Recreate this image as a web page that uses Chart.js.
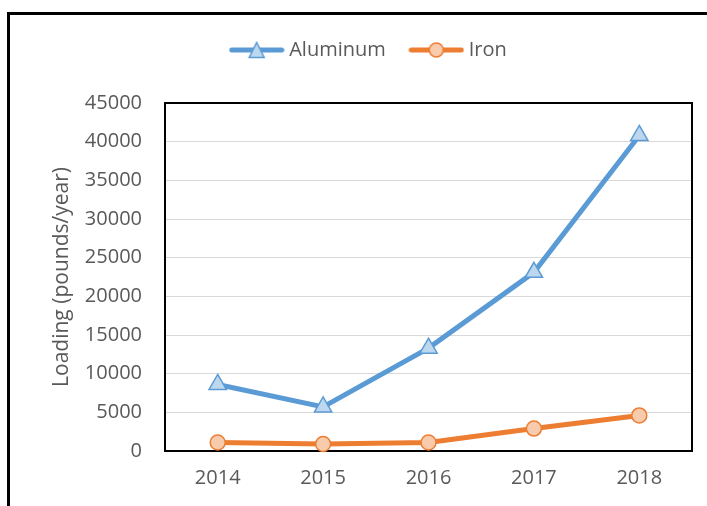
<!DOCTYPE html>
<html>
<head>
<meta charset="utf-8">
<script src="https://cdn.jsdelivr.net/npm/chart.js@4.4.1/dist/chart.umd.min.js"></script>
<style>
  html, body { margin: 0; padding: 0; background: #fff; overflow: hidden; }
  #wrap { position: relative; width: 707px; height: 506px; overflow: hidden; }
  #frame { position: absolute; left: 7px; top: 12px; width: 730px; height: 530px; border: 3px solid #000; box-sizing: border-box; }
  #chart { position: absolute; left: 0; top: 0; }
</style>
</head>
<body>
<div id="wrap">
  <div id="frame"></div>
  <canvas id="chart" width="707" height="506"></canvas>
</div>
<script>
// data
const years = ['2014', '2015', '2016', '2017', '2018'];
const aluminum = [8600, 5700, 13300, 23100, 40800];
const iron = [1100, 900, 1100, 2900, 4600];
const yMin = 0;
const yMax = 45000;
const yStep = 5000;

Chart.defaults.font.family = "'Open Sans', sans-serif";
Chart.defaults.color = '#595959';

// little line + marker picture for each legend entry
function legendIcon(line, fill, shape) {
    let c = document.createElement('canvas');
    c.width = 56;
    c.height = 20;
    let g = c.getContext('2d');
    g.strokeStyle = line;
    g.lineWidth = 5;
    g.lineCap = 'round';
    g.beginPath();
    g.moveTo(3, 10);
    g.lineTo(53, 10);
    g.stroke();
    g.fillStyle = fill;
    g.lineWidth = 1.5;
    g.beginPath();
    if (shape === 'triangle') {
        g.moveTo(28, 2.5);
        g.lineTo(35.5, 17.5);
        g.lineTo(20.5, 17.5);
        g.closePath();
    } else {
        g.arc(28, 10, 7, 0, Math.PI * 2);
    }
    g.fill();
    g.stroke();
    return c;
}

const icons = [
    legendIcon('#5B9BD5', '#BDD7EE', 'triangle'),
    legendIcon('#ED7D31', '#F8CBAD', 'circle')
];

// push the plot down below the legend
const legendSpacer = {
    id: 'legendSpacer',
    beforeUpdate(chart) {
        let legend = chart.legend;
        if (!legend || legend._spaced) return;
        let fit = legend.fit;
        legend.fit = function () {
            fit.call(this);
            this.height += 33;
        };
        legend._spaced = true;
    }
};

// black box round the plot area
const plotFrame = {
    id: 'plotFrame',
    beforeDatasetsDraw(chart) {
        let {ctx, chartArea} = chart;
        ctx.save();
        ctx.strokeStyle = '#000';
        ctx.lineWidth = 2;
        ctx.strokeRect(chartArea.left, chartArea.top, chartArea.right - chartArea.left, chartArea.bottom - chartArea.top);
        ctx.restore();
    }
};

let chart = new Chart(document.querySelector('#chart'), {
    type: 'line',
    data: {
        labels: years,
        datasets: [{
            label: 'Aluminum',
            data: aluminum,
            borderColor: '#5B9BD5',
            backgroundColor: '#BDD7EE',
            borderWidth: 5,
            pointStyle: 'triangle',
            pointRadius: 10,
            pointBorderWidth: 1.5,
            pointBackgroundColor: '#BDD7EE',
            pointBorderColor: '#5B9BD5',
            tension: 0,
            clip: false
        }, {
            label: 'Iron',
            data: iron,
            borderColor: '#ED7D31',
            backgroundColor: '#F8CBAD',
            borderWidth: 5,
            pointStyle: 'circle',
            pointRadius: 7.5,
            pointBorderWidth: 1.5,
            pointBackgroundColor: '#F8CBAD',
            pointBorderColor: '#ED7D31',
            tension: 0,
            clip: false
        }]
    },
    options: {
        responsive: false,
        animation: false,
        devicePixelRatio: 1,
        layout: {
            padding: {left: 49, right: 15, top: 12, bottom: 0}
        },
        plugins: {
            legend: {
                position: 'top',
                labels: {
                    usePointStyle: true,
                    pointStyleWidth: 45,
                    padding: 28,
                    color: '#595959',
                    font: {size: 20},
                    generateLabels: (c) => c.data.datasets.map((ds, i) => ({
                        text: ds.label,
                        pointStyle: icons[i],
                        fillStyle: 'transparent',
                        strokeStyle: 'transparent',
                        lineWidth: 0,
                        fontColor: '#595959',
                        hidden: false,
                        datasetIndex: i
                    }))
                }
            },
            tooltip: {enabled: false}
        },
        scales: {
            x: {
                offset: true,
                grid: {display: false, drawTicks: false},
                border: {display: false},
                ticks: {padding: 15, color: '#595959', font: {size: 20}},
                afterFit: (scale) => { scale.height = 55; }
            },
            y: {
                min: yMin,
                max: yMax,
                grid: {color: '#D9D9D9', lineWidth: 1, drawTicks: false},
                border: {display: false},
                ticks: {
                    stepSize: yStep,
                    padding: 23,
                    color: '#595959',
                    font: {size: 20},
                    callback: (v) => String(v)
                },
                title: {
                    display: true,
                    text: 'Loading (pounds/year)',
                    color: '#595959',
                    font: {size: 21},
                    padding: {top: 0, bottom: 0}
                },
                afterFit: (scale) => { scale.width = 116; }
            }
        }
    },
    plugins: [legendSpacer, plotFrame]
});
</script>
</body>
</html>
